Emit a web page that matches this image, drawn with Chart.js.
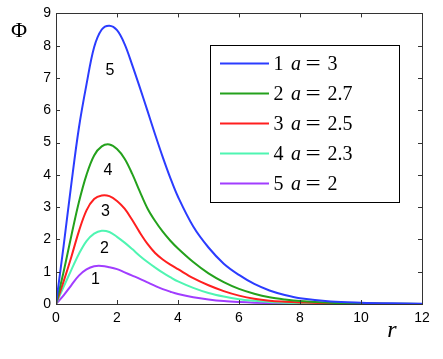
<!DOCTYPE html>
<html>
<head>
<meta charset="utf-8">
<script src="https://cdn.jsdelivr.net/npm/chart.js@4.4.1/dist/chart.umd.min.js"></script>
<style>
  html, body { margin: 0; padding: 0; background: #fff; }
  #wrap { width: 443px; height: 359px; position: relative; }
</style>
</head>
<body>
<div id="wrap"><canvas id="phi-chart"></canvas></div>
<script>
// r grid shared by all curves
const rGrid = [0, 0.25, 0.5, 0.75, 1, 1.25, 1.5, 1.75, 2, 2.25, 2.5, 2.75, 3, 3.25, 3.5, 3.75, 4,
               4.5, 5, 5.5, 6, 6.5, 7, 7.5, 8, 9, 10, 11, 12];

// values
const phiA30 = [0, 1.8, 3.7, 5.45, 6.8, 7.95, 8.5, 8.62, 8.48, 8.05, 7.4, 6.7, 5.98, 5.25, 4.55, 3.9, 3.32,
                2.4, 1.75, 1.25, 0.9, 0.62, 0.42, 0.28, 0.18, 0.08, 0.04, 0.02, 0.01];
const phiA27 = [0, 1.0, 2.1, 3.15, 4.0, 4.6, 4.88, 4.94, 4.8, 4.5, 4.03, 3.48, 2.96, 2.57, 2.24, 1.96, 1.72,
                1.3, 0.95, 0.68, 0.47, 0.32, 0.21, 0.14, 0.09, 0.04, 0.02, 0.01, 0];
const phiA25 = [0, 0.7, 1.45, 2.25, 2.9, 3.25, 3.36, 3.34, 3.19, 2.95, 2.6, 2.21, 1.86, 1.58, 1.38, 1.22, 1.08,
                0.8, 0.58, 0.4, 0.26, 0.16, 0.1, 0.07, 0.05, 0.02, 0.01, 0, 0];
const phiA23 = [0, 0.53, 1.05, 1.55, 1.95, 2.18, 2.27, 2.23, 2.08, 1.9, 1.7, 1.49, 1.3, 1.13, 0.97, 0.83, 0.7,
                0.5, 0.34, 0.23, 0.15, 0.1, 0.06, 0.04, 0.03, 0.01, 0, 0, 0];
const phiA20 = [0, 0.27, 0.58, 0.88, 1.07, 1.17, 1.18, 1.14, 1.08, 0.98, 0.88, 0.78, 0.67, 0.56, 0.46, 0.38, 0.31,
                0.21, 0.14, 0.09, 0.06, 0.04, 0.03, 0.02, 0.01, 0, 0, 0, 0];

const seriesNums = ["1", "2", "3", "4", "5"];
const seriesA = ["3", "2.7", "2.5", "2.3", "2"];
const seriesVals = [phiA30, phiA27, phiA25, phiA23, phiA20];
const seriesColors = ["#2b3cff", "#24a11c", "#ff1f1f", "#4ff5b2", "#a13dff"];

// numbers written next to the curves, with their (r, Phi) anchors
const curveTags = ["5", "4", "3", "2", "1"];
const curveTagR = [1.77, 1.70, 1.62, 1.59, 1.29];
const curveTagPhi = [7.24, 4.14, 2.85, 1.73, 0.75];

const xTicks = [0, 2, 4, 6, 8, 10, 12];
const yTicks = [0, 1, 2, 3, 4, 5, 6, 7, 8, 9];

const frameAndLegend = {
    id: "frameAndLegend",
    afterDatasetsDraw(chart) {
        const ctx = chart.ctx;
        const a = chart.chartArea;
        const xs = chart.scales.x, ys = chart.scales.y;
        ctx.save();

        // frame with inward ticks
        ctx.strokeStyle = "#333";
        ctx.lineWidth = 1;
        ctx.strokeRect(Math.round(a.left) + 0.5, Math.round(a.top) + 0.5,
                       Math.round(a.right - a.left), Math.round(a.bottom - a.top));
        ctx.beginPath();
        xTicks.forEach(v => {
            const px = Math.round(xs.getPixelForValue(v)) + 0.5;
            ctx.moveTo(px, a.bottom); ctx.lineTo(px, a.bottom - 4);
            ctx.moveTo(px, a.top); ctx.lineTo(px, a.top + 4);
        });
        yTicks.forEach(v => {
            const py = Math.round(ys.getPixelForValue(v)) + 0.5;
            ctx.moveTo(a.left, py); ctx.lineTo(a.left + 4, py);
            ctx.moveTo(a.right, py); ctx.lineTo(a.right - 4, py);
        });
        ctx.stroke();

        // curve numbers
        ctx.fillStyle = "#000";
        ctx.font = "16px 'Liberation Sans', Arial, sans-serif";
        ctx.textAlign = "center";
        ctx.textBaseline = "middle";
        curveTags.forEach((t, i) => {
            ctx.fillText(t, xs.getPixelForValue(curveTagR[i]), ys.getPixelForValue(curveTagPhi[i]));
        });

        // axis titles
        ctx.font = "22px 'Liberation Serif', 'DejaVu Serif', serif";
        ctx.fillText("\u03A6", 19, 31);
        ctx.font = "italic 24px 'Liberation Serif', 'DejaVu Serif', serif";
        ctx.fillText("r", 392, 331);

        // legend box
        const bx = 210.5, by = 45.5, bw = 189, bh = 157;
        ctx.fillStyle = "#fff";
        ctx.fillRect(bx, by, bw, bh);
        ctx.strokeStyle = "#000";
        ctx.lineWidth = 1;
        ctx.strokeRect(bx, by, bw, bh);
        ctx.textAlign = "left";
        ctx.textBaseline = "alphabetic";
        seriesNums.forEach((n, i) => {
            const ry = 63.5 + i * 30;
            ctx.strokeStyle = seriesColors[i];
            ctx.lineWidth = 2;
            ctx.beginPath();
            ctx.moveTo(220, ry); ctx.lineTo(269, ry);
            ctx.stroke();
            ctx.fillStyle = "#000";
            ctx.font = "20px 'Liberation Serif', serif";
            ctx.fillText(n, 273.5, ry + 6.8);
            ctx.font = "italic 20px 'Liberation Serif', serif";
            ctx.fillText("a", 291, ry + 6.8);
            ctx.font = "20px 'Liberation Serif', serif";
            ctx.save();
            ctx.scale(1.35, 1);
            ctx.fillText("=", 305.5 / 1.35, ry + 6.8);
            ctx.restore();
            ctx.fillText(seriesA[i], 327.5, ry + 6.8);
        });
        ctx.restore();
    }
};

const ctx = document.getElementById("phi-chart");
new Chart(ctx, {
    type: "line",
    data: {
        datasets: seriesVals.map((vals, i) => ({
            label: seriesNums[i] + " a = " + seriesA[i],
            data: rGrid.map((r, j) => ({ x: r, y: vals[j] })),
            borderColor: seriesColors[i],
            borderWidth: 2,
            pointRadius: 0,
            fill: false,
            tension: 0.35
        }))
    },
    options: {
        responsive: true,
        maintainAspectRatio: false,
        animation: false,
        layout: { padding: { top: 12, right: 21, left: 0, bottom: 0 } },
        plugins: { legend: { display: false }, tooltip: { enabled: false } },
        scales: {
            x: {
                type: "linear", min: 0, max: 12,
                afterBuildTicks: s => { s.ticks = xTicks.map(v => ({ value: v })); },
                afterFit: s => { s.height = 55; },
                grid: { display: false, drawTicks: false },
                border: { display: false },
                ticks: { color: "#000", padding: 6, font: { family: "'Liberation Sans', Arial, sans-serif", size: 14 } }
            },
            y: {
                type: "linear", min: 0, max: 9,
                afterBuildTicks: s => { s.ticks = yTicks.map(v => ({ value: v })); },
                afterFit: s => { s.width = 56; },
                grid: { display: false, drawTicks: false },
                border: { display: false },
                ticks: { color: "#000", padding: 5, font: { family: "'Liberation Sans', Arial, sans-serif", size: 14 } }
            }
        }
    },
    plugins: [frameAndLegend]
});
</script>
</body>
</html>
